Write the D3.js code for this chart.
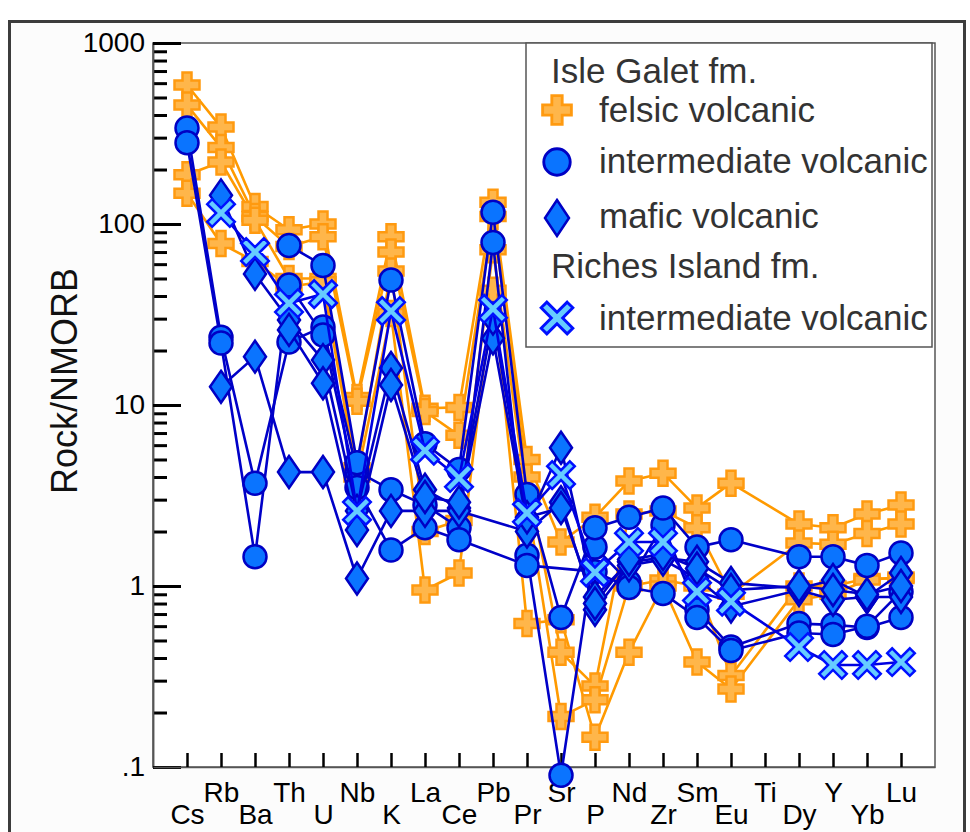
<!DOCTYPE html>
<html>
<head>
<meta charset="utf-8">
<script src="https://cdn.jsdelivr.net/npm/d3@7"></script>
<style>
  body { margin: 0; background: #fff; }
  svg { display: block; font-family: "Liberation Sans", Arial, sans-serif; }
</style>
</head>
<body>
<div id="chart"></div>
<script>
// elements along the x axis
const elements = ["Cs","Rb","Ba","Th","U","Nb","K","La","Ce","Pb","Pr","Sr","P","Nd","Zr","Sm","Eu","Ti","Dy","Y","Yb","Lu"];

// Isle Galet fm. - felsic volcanic (rock / NMORB), null = not analysed
const felsic1 = [586, 343, 125, 93, 100, 11, 85, 9.6, 9.7, 132, 5.0, 1.75, 2.4, 3.8, 4.2, 2.7, 3.7, null, 2.2, 2.1, 2.5, 2.8];
const felsic2 = [454, 265, 110, 75, 85, 10.5, 70, 9.2, 6.8, 110, 4.0, 0.43, 0.28, 2.5, 2.6, 2.1, 0.9, null, 1.73, 1.7, 1.95, 2.2];
const felsic3 = [187, 220, 105, 50, 50, 4.5, 55, 2.0, 2.3, 72, 3.0, 0.19, 0.235, 1.0, 1.08, 1.0, 0.32, null, 1.0, 1.0, 1.1, 1.1];
const felsic4 = [148, 78, 62, 45, 48, 4.0, 32, 0.95, 1.18, 43, 0.62, 0.65, 0.146, 0.43, 1.0, 0.38, 0.27, null, 0.84, 0.9, 1.08, 1.12];

// Isle Galet fm. - intermediate volcanic
const inter1 = [339, 23.7, 3.7, 22.3, 27, 4.3, 3.4, 2.8, 2.1, 79, 1.48, 0.09, 1.64, 1.05, 2.17, 0.74, 0.46, null, 0.62, 0.61, 0.59, 0.67];
const inter2 = [281, 22, 1.45, 46, 24.4, 3.5, 1.58, 2.1, 1.8, null, 1.3, null, 1.2, 0.98, 0.91, 0.67, 0.44, null, 0.55, 0.54, 0.6, 0.93];
const inter3 = [null, null, null, 76, 59, 4.8, 49, 6.1, 4.4, 116, 3.2, 0.67, 2.1, 2.4, 2.7, 1.64, 1.8, null, 1.45, 1.45, 1.3, 1.52];

// Isle Galet fm. - mafic volcanic
const mafic1 = [null, 144, 53, 29.5, 17.7, 2.6, 16, 3.4, 2.7, 23.4, 2.2, 5.8, 0.87, 1.36, 1.43, 1.36, 1.04, null, 0.97, 1.08, 0.87, 1.18];
const mafic2 = [null, 12.6, 18.5, 4.26, 4.26, 1.1, 2.6, 2.6, 2.6, null, 2.0, 2.9, 0.74, 1.3, 1.4, 1.1, 0.77, null, 0.95, 0.84, 0.87, 0.87];
const mafic3 = [null, null, null, 26, 13.2, 2.04, 12.9, 3.1, 2.9, 30, 2.4, 2.7, 0.8, 1.4, 1.5, 1.25, 0.95, null, 1.0, 0.95, 0.9, 1.0];

// Riches Island fm. - intermediate volcanic
const riches1 = [null, 115, 70, 36.5, 41, 2.6, 33, 5.6, 3.95, 34, 2.53, 4.1, 1.19, 1.75, 1.75, 0.93, 0.82, null, 0.46, 0.366, 0.366, 0.38];

const yTicks = [0.1, 1, 10, 100, 1000];
const yTickLabels = [".1", "1", "10", "100", "1000"];

const W = 970, H = 832;
const svg = d3.select("#chart").append("svg").attr("width", W).attr("height", H);

// outer panel frame
svg.append("rect")
    .attr("x", 9.5).attr("y", 21.5).attr("width", 955).attr("height", 840)
    .attr("fill", "#fcfcfc").attr("stroke", "#3c3c3c").attr("stroke-width", 3);

const plot = {left: 153, right: 935, top: 43, bottom: 767};

const x = d3.scaleLinear().domain([-1, elements.length]).range([plot.left, plot.right]);
const y = d3.scaleLog().domain([0.1, 1000]).range([plot.bottom, plot.top]);

svg.append("rect")
    .attr("x", plot.left).attr("y", plot.top)
    .attr("width", plot.right - plot.left).attr("height", plot.bottom - plot.top)
    .attr("fill", "#fff").attr("stroke", "#555").attr("stroke-width", 1.5);

// y axis: major ticks with labels, minor ticks inside
const minorTicks = [];
for (let d = 0.1; d < 1000; d *= 10) {
    for (let k = 2; k <= 9; k++) minorTicks.push(+(d * k).toPrecision(3));
}
const yMinor = svg.append("g").attr("transform", `translate(${plot.left},0)`)
    .call(d3.axisLeft(y).tickValues(minorTicks).tickSizeInner(-14).tickSizeOuter(0).tickFormat(""));
const yMajor = svg.append("g").attr("transform", `translate(${plot.left},0)`)
    .call(d3.axisLeft(y).tickValues(yTicks).tickSizeInner(-28).tickSizeOuter(0).tickPadding(8)
        .tickFormat((d, i) => yTickLabels[i]));
[yMinor, yMajor].forEach(g => {
    g.select(".domain").attr("stroke", "#555").attr("stroke-width", 1.5);
    g.selectAll(".tick line").attr("stroke", "#000").attr("stroke-width", 3);
});
yMajor.selectAll(".tick text")
    .attr("font-size", 28).attr("fill", "#000")
    .attr("font-family", "Liberation Sans, Arial, sans-serif");

// x axis: ticks pointing up, labels on two rows
const xAxis = svg.append("g").attr("transform", `translate(0,${plot.bottom})`)
    .call(d3.axisBottom(x).tickValues(d3.range(elements.length)).tickSizeInner(-14).tickSizeOuter(0)
        .tickFormat(i => elements[i]));
xAxis.select(".domain").attr("stroke", "#555").attr("stroke-width", 1.5);
xAxis.selectAll(".tick line").attr("stroke", "#000").attr("stroke-width", 2.5);
xAxis.selectAll(".tick text")
    .attr("font-size", 28).attr("fill", "#000")
    .attr("font-family", "Liberation Sans, Arial, sans-serif")
    .attr("dy", null)
    .attr("y", i => i % 2 === 1 ? 35 : 57);

// y axis title
svg.append("text")
    .attr("transform", "translate(77,381) rotate(-90)")
    .attr("text-anchor", "middle")
    .attr("font-size", 36).attr("fill", "#111")
    .text("Rock/NMORB");

// marker shapes
function crossPath(s, a) {
    const h = s / 2, w = a / 2;
    return `M${-w},${-h}H${w}V${-w}H${h}V${w}H${w}V${h}H${-w}V${w}H${-h}V${-w}H${-w}Z`;
}
const markers = {
    cross: g => g.append("path").attr("d", crossPath(25, 9))
        .attr("fill", "#ffb64a").attr("stroke", "#ff9a10").attr("stroke-width", 2.5),
    circle: g => g.append("circle").attr("r", 11.5)
        .attr("fill", "#0a74ff").attr("stroke", "#0000c4").attr("stroke-width", 2.5),
    diamond: g => g.append("path").attr("d", "M0,-16L11,0L0,16L-11,0Z")
        .attr("fill", "#0a74ff").attr("stroke", "#0000c4").attr("stroke-width", 2.5),
    xmark: g => g.append("path").attr("d", crossPath(32, 7)).attr("transform", "rotate(45)")
        .attr("fill", "#66ccff").attr("stroke", "#0010ff").attr("stroke-width", 2.5)
};

const groups = [
    {samples: [felsic1, felsic2, felsic3, felsic4], marker: "cross", line: "#ff9a00"},
    {samples: [inter1, inter2, inter3], marker: "circle", line: "#0000c8"},
    {samples: [mafic1, mafic2, mafic3], marker: "diamond", line: "#0000c8"},
    {samples: [riches1], marker: "xmark", line: "#0000e0"}
];

const line = d3.line().x(d => x(d.i)).y(d => y(d.v));

groups.forEach(grp => {
    const pts = grp.samples.map(s => s.map((v, i) => ({i, v})).filter(d => d.v != null));
    const gl = svg.append("g");
    pts.forEach(p => {
        gl.append("path").datum(p).attr("d", line)
            .attr("fill", "none").attr("stroke", grp.line).attr("stroke-width", 2.6)
            .attr("stroke-linejoin", "round");
    });
    pts.forEach(p => {
        p.forEach(d => {
            const m = gl.append("g").attr("transform", `translate(${x(d.i)},${y(d.v)})`);
            markers[grp.marker](m);
        });
    });
});

// legend
const lg = svg.append("g");
lg.append("rect").attr("x", 526).attr("y", 43).attr("width", 406).attr("height", 304)
    .attr("fill", "#fff").attr("stroke", "#555").attr("stroke-width", 1.5);
const legendRows = [
    {label: "Isle Galet fm.", y: 83, header: true},
    {label: "felsic volcanic", y: 122, marker: "cross", my: 110},
    {label: "intermediate volcanic", y: 173, marker: "circle", my: 162},
    {label: "mafic volcanic", y: 228, marker: "diamond", my: 218},
    {label: "Riches Island fm.", y: 278, header: true},
    {label: "intermediate volcanic", y: 330, marker: "xmark", my: 318}
];
legendRows.forEach(r => {
    lg.append("text").attr("x", r.header ? 551 : 599).attr("y", r.y)
        .attr("font-size", 35).attr("fill", "#333").text(r.label);
    if (r.marker) {
        const m = lg.append("g").attr("transform", `translate(557,${r.my})`);
        if (r.marker === "diamond") {
            m.append("path").attr("d", "M0,-18L12,0L0,18L-12,0Z")
                .attr("fill", "#0a74ff").attr("stroke", "#0000c4").attr("stroke-width", 2.5);
        } else {
            markers[r.marker](m).attr("transform", r.marker === "xmark" ? "rotate(45) scale(1.15)" : "scale(1.15)");
        }
    }
});
</script>
</body>
</html>
